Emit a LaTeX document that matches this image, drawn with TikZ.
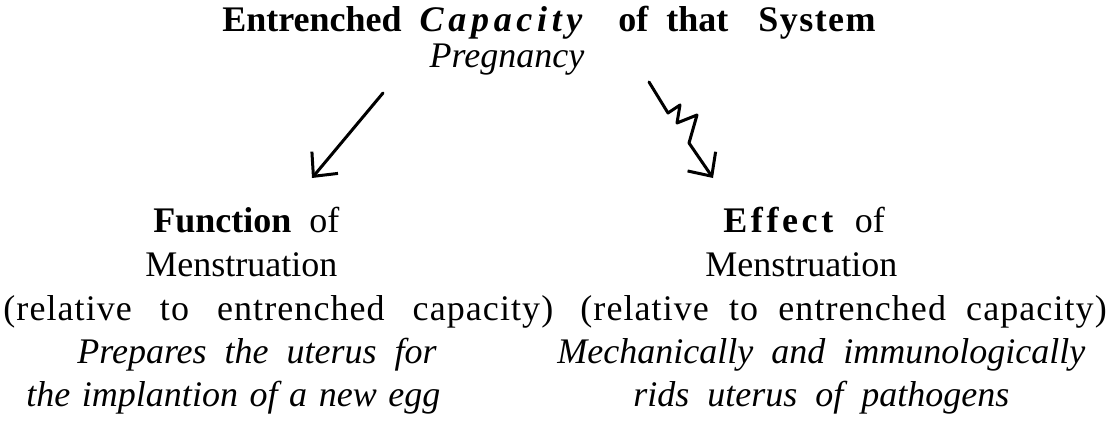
\documentclass[tikz,border=0pt]{standalone}
\usepackage{fontspec}
\setmainfont{Liberation Serif}[WordSpace=2]
\usetikzlibrary{arrows.meta}

\tikzset{
  txt/.style={inner sep=0pt, anchor=base west, font=\fontsize{18}{21.6}\selectfont},
  spaced/.style={txt, font=\fontsize{18}{21.6}\selectfont\addfontfeature{LetterSpace=3}},
  slanted/.style={txt, font=\fontsize{18}{21.6}\selectfont\itshape},
  hand/.style={line width=1.5pt, line cap=round, line join=round,
    -{Straight Barb[length=9pt,width=17pt,line width=1.5pt]}},
}

\begin{document}
\begin{tikzpicture}[x=0.5pt, y=-0.5pt]
    \useasboundingbox (0, 0) rectangle (1112, 428);

    % heading
    \node[txt, anchor=base] (title) at (549, 32)
        {\bfseries Entrenched {\itshape\addfontfeature{LetterSpace=13}Capacity}\hspace{9pt} of that\hspace{6pt} {\addfontfeature{LetterSpace=4}System}};
    \node[slanted, anchor=base] (preg) at (507, 67) {Pregnancy};

    % left column
    \node[txt] (fun) at (153, 232) {\textbf{Function} of};
    \node[txt] (menl) at (145, 276) {Menstruation};
    \node[spaced] (rell) at (3, 320) {\spaceskip=14pt\relax (relative to entrenched capacity)};
    \node[slanted] (prep) at (77, 363) {Prepares the uterus for};
    \node[slanted] (impl) at (26, 406) {\spaceskip=5.8pt\relax the implantion of a new egg};

    % right column
    \node[txt] (eff) at (723, 232) {\textbf{\addfontfeature{LetterSpace=10}Effect} of};
    \node[txt] (menr) at (705, 276) {Menstruation};
    \node[spaced] (relr) at (580, 320) {(relative to entrenched capacity)};
    \node[slanted] (mech) at (557, 363) {Mechanically and immunologically};
    \node[slanted] (rids) at (633, 406) {rids uterus of pathogens};

    % arrows
    \coordinate (funtop) at (383, 93);
    \coordinate (funtip) at (312, 178);
    \coordinate (efftop) at (649, 82);
    \coordinate (efftip) at (713, 178);
    \draw[hand] (funtop) -- (funtip);
    \draw[hand] (efftop) -- (668, 113) -- (680, 105) -- (677, 123) -- (697, 115) -- (689, 143) -- (efftip);
\end{tikzpicture}
\end{document}
